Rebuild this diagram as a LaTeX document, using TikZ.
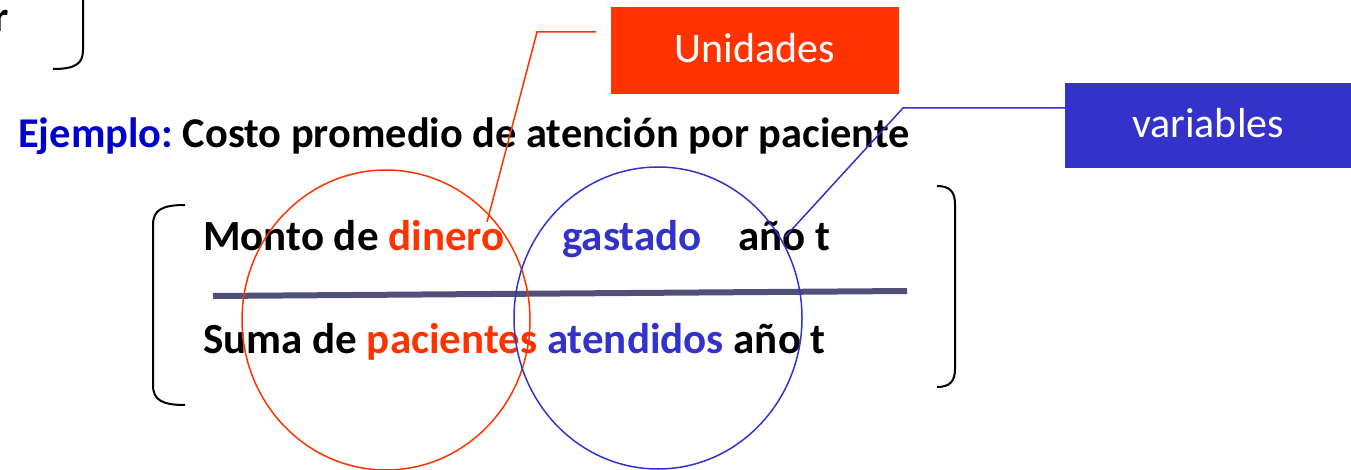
\documentclass[tikz,border=0pt]{standalone}
\usepackage{fontspec}
\setmainfont{Carlito}
\frenchspacing
\definecolor{myred}{RGB}{255,51,0}
\definecolor{myblue}{RGB}{51,51,204}
\definecolor{ejblue}{RGB}{0,0,204}
\definecolor{rulecol}{RGB}{80,80,122}
\tikzset{
  txt/.style={anchor=base west,inner sep=0pt,font=\fontsize{43}{50}\selectfont\bfseries},
  boxlbl/.style={inner sep=0pt,text=white,font=\fontsize{42}{50}\selectfont},
  bracket/.style={line width=2pt,black},
  thin/.style={line width=1.5pt},
}
\begin{document}
\begin{tikzpicture}[x=1pt,y=-1pt]
\useasboundingbox (0,0) rectangle (1351,470);
% top-left fragment
\node[txt,anchor=base east] (r) at (9,32) {r};
\draw[bracket] (83,-2) -- (83,50) .. controls (83,64) and (75,69) .. (53,69);
% boxes
\fill[myred] (611,7) rectangle (899,94);
\node[boxlbl] (unid) at (755,48) {Unidades};
\fill[myblue] (1065,83) rectangle (1351,168);
\node[boxlbl] (vars) at (1208,123) {variables};
% title
\node[txt,font=\fontsize{42.4}{50}\selectfont\bfseries] (ej) at (18,148) {\textcolor{ejblue}{Ejemplo:} Costo promedio de atención por paciente};
% fraction rows
\node[txt] (monto) at (203,251) {Monto de \textcolor{myred}{dinero}};
\node[txt,text=myblue] (gast) at (562,251) {gastado};
\node[txt] (anio1) at (738,251) {año t};
\node[txt] (suma) at (203,353) {Suma de \textcolor{myred}{pacientes} \textcolor{myblue}{atendidos} año t};
\draw[line width=6pt,rulecol] (213,296) -- (907,291);
% brackets
\draw[bracket] (185,205) .. controls (162,205) and (153,210) .. (153,225) -- (153,385)
  .. controls (153,400) and (162,405) .. (185,405);
\draw[bracket] (937,186) .. controls (950,186) and (955,192) .. (955,204) -- (955,369)
  .. controls (955,381) and (950,387) .. (937,387);
% circles
\draw[thin,myred] (386,320) ellipse [x radius=144,y radius=150];
\draw[thin,myblue] (658,318) ellipse [x radius=144,y radius=151];
% callouts
\coordinate (rA) at (596,32);
\coordinate (rB) at (537,32);
\coordinate (rC) at (487,222);
\draw[thin,myred] (rA) -- (rB) -- (rC);
\coordinate (bA) at (1065,108);
\coordinate (bB) at (903,108);
\coordinate (bC) at (785,237);
\draw[thin,myblue] (bA) -- (bB) -- (bC);
\end{tikzpicture}
\end{document}
